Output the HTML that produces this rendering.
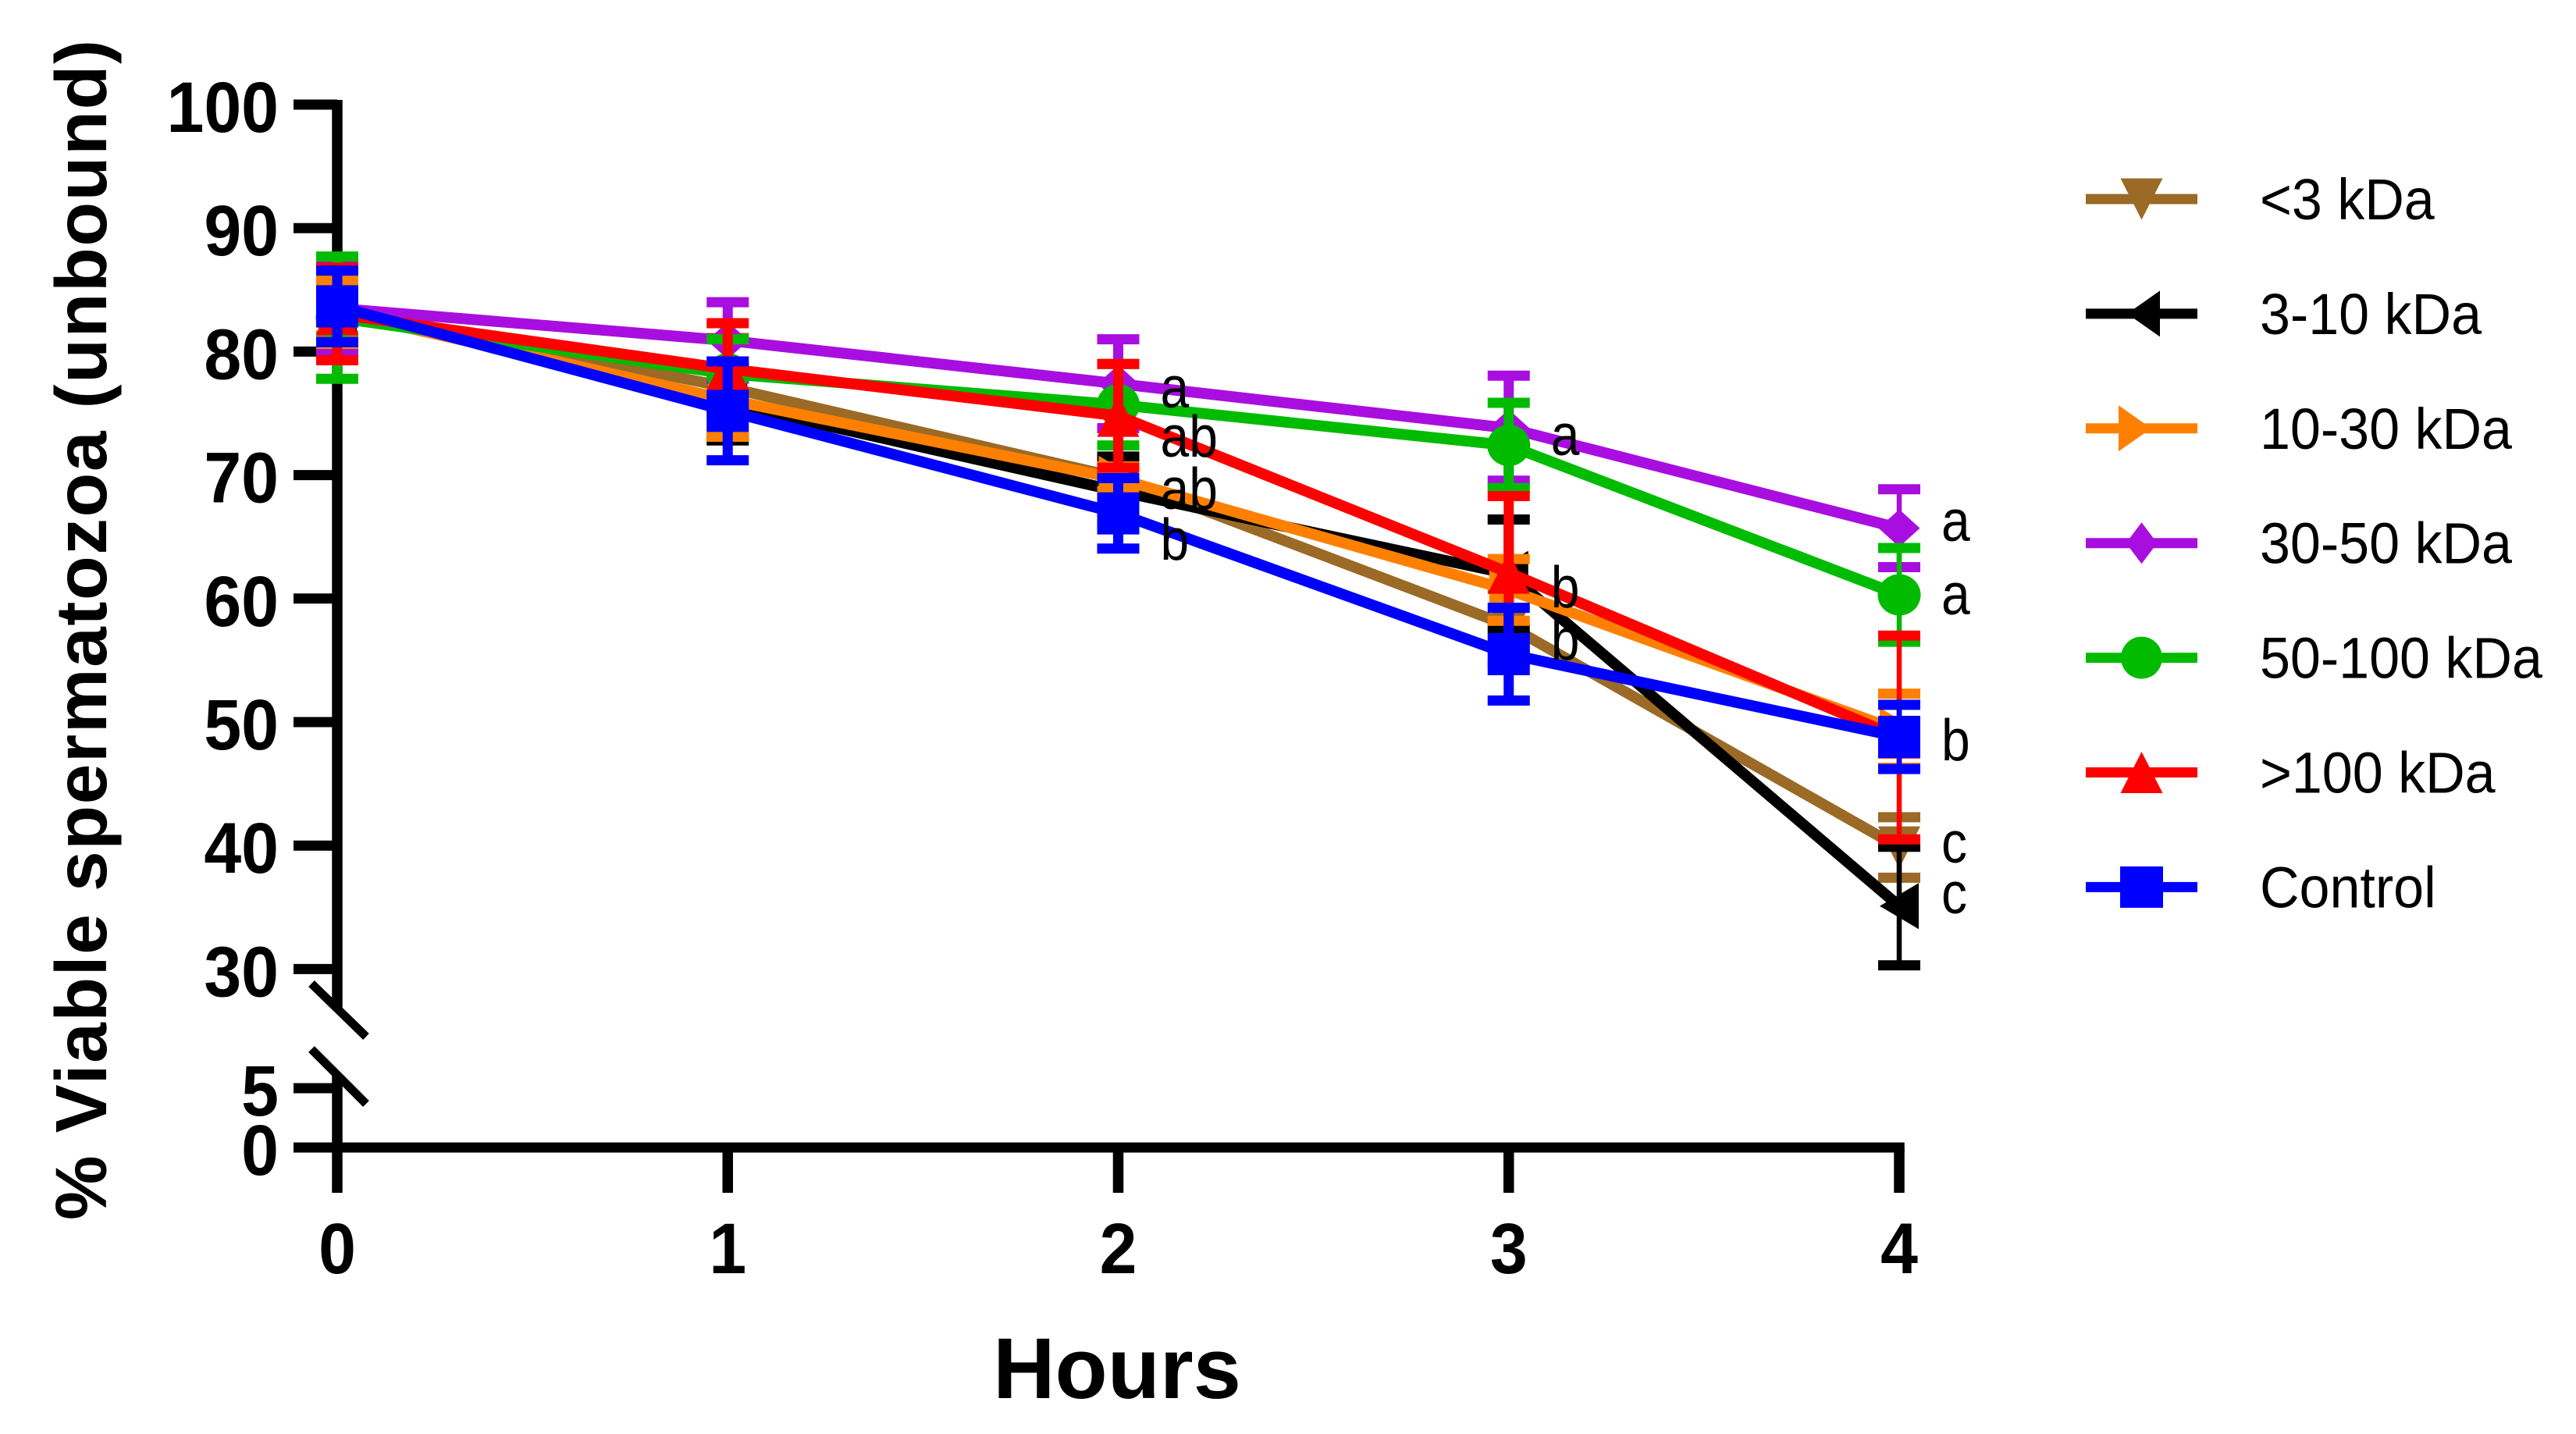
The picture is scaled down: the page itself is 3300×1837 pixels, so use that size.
<!DOCTYPE html>
<html lang="en">
<head>
<meta charset="utf-8">
<title>% Viable spermatozoa (unbound) over time</title>
<style>
html,body{margin:0;padding:0;background:#fff;}
svg{display:block;font-family:"Liberation Sans",Arial,sans-serif;}
</style>
</head>
<body>
<svg id="chart" xmlns="http://www.w3.org/2000/svg" width="3300" height="1837" viewBox="0 0 3300 1837">
  <rect width="3300" height="1837" fill="#ffffff"/>
  <g id="axes"></g>
  <g id="series"></g>
  <g id="annotations"></g>
  <g id="legend"></g>
  <text transform="translate(136,1563) rotate(-90)" font-size="93" font-weight="700" fill="#000" textLength="1512" lengthAdjust="spacing">% Viable spermatozoa (unbound)</text>
  <text x="1431" y="1791" text-anchor="middle" font-size="110" font-weight="700" fill="#000">Hours</text>
</svg>
<script>
// ---- data ----
const hours = [0, 1, 2, 3, 4];
const yTicksUpper = [100, 90, 80, 70, 60, 50, 40, 30];
const yTicksLower = [5, 0];

const seriesNames = ['<3 kDa', '3-10 kDa', '10-30 kDa', '30-50 kDa', '50-100 kDa', '>100 kDa', 'Control'];

const brownMean = [83.5, 77.1, 69.8, 57.8, 39.85];
const brownErr = [2.2, 4.0, 1.2, 3.0, 2.45];
const blackMean = [83.4, 75.8, 68.7, 62.0, 35.1];
const blackErr = [3.3, 3.0, 2.8, 4.4, 4.8];
const orangeMean = [83.2, 76.1, 69.7, 60.7, 49.3];
const orangeErr = [2.6, 3.0, 1.0, 2.5, 3.0];
const purpleMean = [83.5, 80.9, 77.4, 73.8, 65.7];
const purpleErr = [3.7, 3.1, 3.6, 4.25, 3.15];
const greenMean = [82.75, 78.2, 75.7, 72.4, 60.3];
const greenErr = [4.95, 2.8, 3.3, 3.45, 3.8];
const redMean = [83.05, 78.6, 74.8, 62.1, 48.75];
const redErr = [3.75, 3.7, 4.2, 6.2, 8.25];
const blueMean = [83.66, 75.2, 66.9, 55.5, 48.8];
const blueErr = [2.9, 4.0, 2.85, 3.75, 2.6];

const letterLabels = ['a', 'ab', 'ab', 'b', 'a', 'b', 'b', 'a', 'a', 'b', 'c', 'c'];
const letterHours = [2, 2, 2, 2, 3, 3, 3, 4, 4, 4, 4, 4];
const letterValues = [75.47, 71.49, 67.26, 63.15, 71.62, 59.29, 55.06, 64.67, 58.73, 46.9, 38.62, 34.51];

// ---- styling and scales ----
const SVG_NS = 'http://www.w3.org/2000/svg';
const seriesKeys = ['brown', 'black', 'orange', 'purple', 'green', 'red', 'blue'];
const seriesColors = ['#9a6a26', '#000000', '#ff8000', '#a90ee0', '#00bb00', '#ff0000', '#0000ff'];
const seriesShapes = ['down', 'left', 'right', 'diamond', 'circle', 'up', 'square'];
const seriesMeans = [brownMean, blackMean, orangeMean, purpleMean, greenMean, redMean, blueMean];
const seriesErrs = [brownErr, blackErr, orangeErr, purpleErr, greenErr, redErr, blueErr];

const chartMarkerSize = {down:[54,54], left:[50,59], right:[50,59], diamond:[53,48], circle:[55,53], up:[54,54], square:[54,54]};
const legendMarkerSize = {down:[54,53], left:[42,59], right:[42,59], diamond:[40,53], circle:[53,54], up:[54,53], square:[55,53]};
const legendMarkerShift = {down:0, left:2.5, right:-8.5, diamond:0, circle:0, up:0, square:0};

function xScale(h) { return 432 + h * 500.25; }
function yScale(v) { return v >= 30 ? 134 + (100 - v) * 15.82 : 1470 - v * 15.2; }

function make(tag, attrs, parent) {
  const node = document.createElementNS(SVG_NS, tag);
  for (const k in attrs) node.setAttribute(k, attrs[k]);
  parent.appendChild(node);
  return node;
}

function marker(shape, cx, cy, w, h, color, parent) {
  const l = cx - w / 2, r = cx + w / 2, t = cy - h / 2, b = cy + h / 2;
  if (shape === 'square') return make('rect', {x: l, y: t, width: w, height: h, fill: color}, parent);
  if (shape === 'circle') return make('ellipse', {cx: cx, cy: cy, rx: w / 2, ry: h / 2, fill: color}, parent);
  let pts;
  if (shape === 'down') pts = [[l, t], [r, t], [cx, b]];
  if (shape === 'up') pts = [[l, b], [r, b], [cx, t]];
  if (shape === 'left') pts = [[l, cy], [r, t], [r, b]];
  if (shape === 'right') pts = [[l, t], [l, b], [r, cy]];
  if (shape === 'diamond') pts = [[l, cy], [cx, t], [r, cy], [cx, b]];
  return make('polygon', {points: pts.map(p => p.join(',')).join(' '), fill: color}, parent);
}

// ---- axes ----
const axes = document.getElementById('axes');
const AXIS_W = 13.5;

const yUpper = make('line', {x1: xScale(0), x2: xScale(0), y1: 128, y2: 1292, stroke: '#000', 'stroke-width': AXIS_W}, axes);



const yLower = make('line', {x1: xScale(0), x2: xScale(0), y1: 1377, y2: 1528, stroke: '#000', 'stroke-width': AXIS_W}, axes);



const breakTop = make('line', {x1: 399, y1: 1260, x2: 469, y2: 1328, stroke: '#000', 'stroke-width': 11}, axes);



const breakBottom = make('line', {x1: 399, y1: 1344, x2: 469, y2: 1414, stroke: '#000', 'stroke-width': 11}, axes);



const xAxis = make('line', {x1: 376, x2: xScale(4) + AXIS_W / 2, y1: yScale(0), y2: yScale(0), stroke: '#000', 'stroke-width': 13}, axes);



yTicksUpper.concat(yTicksLower).forEach(function (v) {
  const y = yScale(v);
  if (v !== 0) {
    const tick = make('line', {x1: 376, x2: xScale(0), y1: y, y2: y, stroke: '#000', 'stroke-width': 13}, axes);
    
    
  }
  const label = make('text', {transform: 'translate(357,' + (y + 35) + ') scale(1,1.07)', 'text-anchor': 'end', 'font-size': 86, 'font-weight': 700, fill: '#000'}, axes);
  label.textContent = String(v);
  
  
});

hours.forEach(function (h) {
  const x = xScale(h);
  if (h !== 0) {
    const tick = make('line', {x1: x, x2: x, y1: yScale(0), y2: 1528, stroke: '#000', 'stroke-width': AXIS_W}, axes);
    
    
  }
  const label = make('text', {transform: 'translate(' + x + ',1631) scale(1,1.07)', 'text-anchor': 'middle', 'font-size': 86, 'font-weight': 700, fill: '#000'}, axes);
  label.textContent = String(h);
  
  
});

// ---- series ----
const seriesRoot = document.getElementById('series');
seriesKeys.forEach(function (key, i) {
  const color = seriesColors[i];
  const means = seriesMeans[i];
  const errs = seriesErrs[i];
  const shape = seriesShapes[i];
  const size = chartMarkerSize[shape];

  const group = make('g', {}, seriesRoot);
  
  

  hours.forEach(function (h, j) {
    const x = xScale(h);
    const yHi = yScale(means[j] + errs[j]);
    const yLo = yScale(means[j] - errs[j]);

    const stem = make('line', {x1: x, x2: x, y1: yHi, y2: yLo, stroke: color, 'stroke-width': h === 4 ? 6.5 : 13}, group);
    
    

    const capHi = make('line', {x1: x - 27, x2: x + 27, y1: yHi, y2: yHi, stroke: color, 'stroke-width': 13}, group);
    
    

    const capLo = make('line', {x1: x - 27, x2: x + 27, y1: yLo, y2: yLo, stroke: color, 'stroke-width': 13}, group);
    
    
  });

  const linePts = hours.map(function (h, j) { return xScale(h) + ',' + yScale(means[j]); }).join(' ');
  const line = make('polyline', {points: linePts, fill: 'none', stroke: color, 'stroke-width': 14, 'stroke-linejoin': 'round'}, group);
  
  

  hours.forEach(function (h, j) {
    const m = marker(shape, xScale(h), yScale(means[j]), size[0], size[1], color, group);
    
    
  });
});

// ---- significance letters ----
const annotations = document.getElementById('annotations');
letterLabels.forEach(function (label, i) {
  const x = xScale(letterHours[i]) + 54;
  const y = yScale(letterValues[i]);
  const t = make('text', {transform: 'translate(' + x + ',' + y + ') scale(1,1.14)', 'font-size': 66, fill: '#000'}, annotations);
  t.textContent = label;
  
  
});

// ---- legend ----
const legend = document.getElementById('legend');
seriesNames.forEach(function (name, i) {
  const y = 255 + i * 146.9;
  const shape = seriesShapes[i];
  const size = legendMarkerSize[shape];

  const row = make('g', {}, legend);
  
  

  const swatch = make('line', {x1: 2672, x2: 2815, y1: y, y2: y, stroke: seriesColors[i], 'stroke-width': 13}, row);
  
  

  const m = marker(shape, 2743.5 + legendMarkerShift[shape], y, size[0], size[1], seriesColors[i], row);
  
  

  const t = make('text', {transform: 'translate(2895,' + (y + 26) + ') scale(1,1.06)', 'font-size': 70, fill: '#000'}, row);
  t.textContent = name;
  
  
});
</script>
</body>
</html>
